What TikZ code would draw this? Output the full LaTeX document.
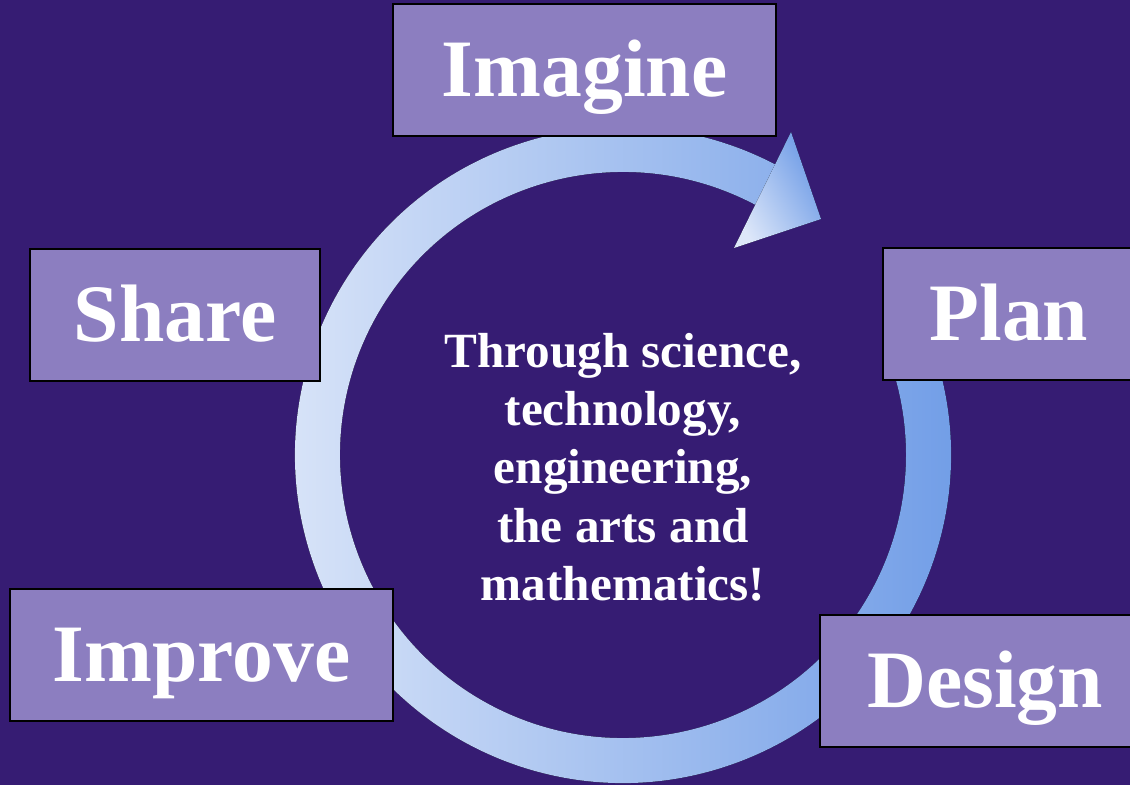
\documentclass[tikz,border=0pt]{standalone}
\usepackage{fontspec}
\setmainfont{Liberation Serif}
\usepackage{xcolor}
\usepackage{tikz}
\usetikzlibrary{calc}
\usetikzlibrary{positioning}
\definecolor{bgpurple}{HTML}{361C73}
\definecolor{boxlilac}{HTML}{8C7EC0}
\definecolor{ringlight}{HTML}{DDE7F9}
\definecolor{ringdark}{HTML}{6C9AE6}
\tikzset{
  stagebox/.style={draw=black,line width=1.5pt,fill=boxlilac,text=white,
    font=\fontsize{58}{68}\selectfont\bfseries,minimum height=132*0.025cm,
    inner sep=0pt,text height=1.3cm,text depth=0pt},
  ringshade/.style={left color=ringlight,right color=ringdark},
  bigtext/.style={text=white,align=center,
    font=\fontsize{35}{41.5}\selectfont\bfseries}
}
\begin{document}
\begin{tikzpicture}[x=0.025cm,y=0.025cm]
\useasboundingbox (0,0) rectangle (1130,785);
\clip (0,0) rectangle (1130,785);
\fill[bgpurple] (0,0) rectangle (1130,785);
\coordinate (hub) at (623,330);
\fill[ringshade] ($(hub)+(20:328)$) arc[start angle=20,end angle=-298,radius=328]
  -- ($(hub)+(62:283)$) arc[start angle=-298,end angle=20,radius=283] -- cycle;
\coordinate (headtop) at (791,653);
\coordinate (headtip) at (821,566);
\coordinate (headlow) at (734,537);
\fill[ringshade,shading angle=120] (headtop) -- (headtip) -- (headlow) -- cycle;
\node[stagebox,minimum width=383*0.025cm] (imagine) at (584.5,715) {Imagine};
\node[stagebox,minimum width=290*0.025cm] (share) at (175,470) {Share};
\node[stagebox,minimum width=252*0.025cm] (plan) at (1009,471) {Plan};
\node[stagebox,minimum width=383*0.025cm] (improve) at (201.5,130) {Improve};
\node[stagebox,minimum width=330*0.025cm] (design) at (985,104) {Design};
\node[bigtext] (motto) at (623,318) {Through science,\\technology,\\engineering,\\the arts and\\mathematics!};
\end{tikzpicture}
\end{document}
